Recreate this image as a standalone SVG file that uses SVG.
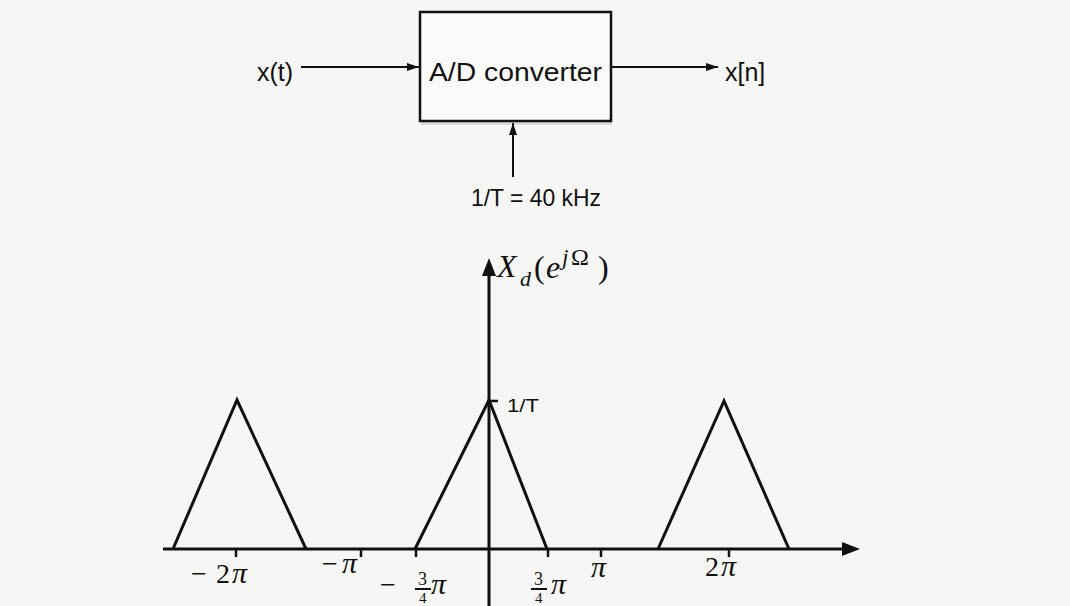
<svg xmlns="http://www.w3.org/2000/svg" width="1070" height="606" viewBox="0 0 1070 606">
<style>
.sans{font-family:"Liberation Sans",Arial,sans-serif;fill:#111}
.math{font-family:"Liberation Serif","Times New Roman",serif;fill:#111}
.it{font-style:italic}
.ln{stroke:#111;stroke-width:2;fill:none}
.thick{stroke:#111;stroke-width:3;fill:none;stroke-linejoin:miter}
.tick{stroke:#111;stroke-width:2.5}
</style>
<defs>
<marker id="ah" viewBox="0 0 12 8" refX="12" refY="4" markerWidth="12" markerHeight="8" markerUnits="userSpaceOnUse" orient="auto">
<path d="M0,0 L12,4 L0,8 Z" fill="#111"/>
</marker>
</defs>
<rect x="0" y="0" width="1070" height="606" fill="#f6f6f4"/>

<g id="converter">
<rect x="421" y="16" width="191" height="109" fill="#bbb" opacity="0.45"/>
<rect x="420" y="12" width="191" height="109" fill="#fafaf8" stroke="#111" stroke-width="2.5"/>
<text class="sans" x="429" y="81" font-size="26" textLength="173" lengthAdjust="spacingAndGlyphs">A/D converter</text>
</g>
<g id="input">
<text class="sans" x="257" y="81" font-size="25">x(t)</text>
</g>
<g id="output">
<text class="sans" x="725" y="81" font-size="25">x[n]</text>
</g>
<g id="clock">
<text class="sans" x="471" y="206" font-size="24" textLength="130" lengthAdjust="spacingAndGlyphs">1/T = 40 kHz</text>
</g>

<g id="connectors">
<line class="ln" x1="301" y1="67" x2="419" y2="67" marker-end="url(#ah)"/>
<line class="ln" x1="612" y1="67" x2="718" y2="67" marker-end="url(#ah)"/>
<line class="ln" x1="513" y1="177" x2="513" y2="123" marker-end="url(#ah)"/>
</g>

<g id="plot">
<line class="thick" x1="163" y1="549" x2="845" y2="549"/>
<polygon points="860,549 842,542 842,556" fill="#111"/>
<line class="thick" x1="489" y1="606" x2="489" y2="274"/>
<polygon points="489,258 482,276 496,276" fill="#111"/>
<line class="tick" x1="489" y1="401" x2="498" y2="401"/>
<g class="tick">
<line x1="236" y1="549" x2="236" y2="557"/>
<line x1="361" y1="549" x2="361" y2="557"/>
<line x1="416" y1="549" x2="416" y2="557"/>
<line x1="548" y1="549" x2="548" y2="557"/>
<line x1="601" y1="549" x2="601" y2="557"/>
<line x1="729" y1="549" x2="729" y2="557"/>
</g>
<polyline class="thick" points="173,549 237,400 306,549"/>
<polyline class="thick" points="415,549 489,400 547,549"/>
<polyline class="thick" points="658,549 724,401 789,549"/>
<text class="sans" x="507" y="412" font-size="19" textLength="32" lengthAdjust="spacingAndGlyphs">1/T</text>
<text class="math" font-size="32"><tspan class="it" x="497" y="277">X</tspan><tspan class="it" x="520" y="286" font-size="22">d</tspan><tspan x="534" y="278">(</tspan><tspan class="it" x="546" y="278">e</tspan><tspan class="it" x="562" y="265" font-size="23">j</tspan><tspan x="571" y="265" font-size="24">Ω</tspan><tspan x="598" y="278">)</tspan></text>
<text class="math" font-size="28"><tspan x="191" y="583">−</tspan><tspan x="216" y="583">2</tspan><tspan class="it" x="232" y="583" font-size="30">π</tspan></text>
<text class="math" font-size="28"><tspan x="322" y="573">−</tspan><tspan class="it" x="342" y="573" font-size="30">π</tspan></text>
<text class="math" font-size="28"><tspan x="380" y="594">−</tspan><tspan class="it" x="431" y="594" font-size="30">π</tspan></text>
<text class="math" font-size="18" x="418" y="585">3</text>
<line class="ln" x1="415" y1="589" x2="431" y2="589" stroke-width="1.4"/>
<text class="math" font-size="15" x="419" y="603">4</text>
<text class="math" font-size="18" x="534" y="585">3</text>
<line class="ln" x1="531" y1="589" x2="547" y2="589" stroke-width="1.4"/>
<text class="math" font-size="15" x="535" y="603">4</text>
<text class="math it" font-size="30" x="551" y="594">π</text>
<text class="math it" font-size="30" x="591" y="577">π</text>
<text class="math" font-size="28"><tspan x="705" y="576">2</tspan><tspan class="it" x="721" y="576" font-size="30">π</tspan></text>
</g>
</svg>
